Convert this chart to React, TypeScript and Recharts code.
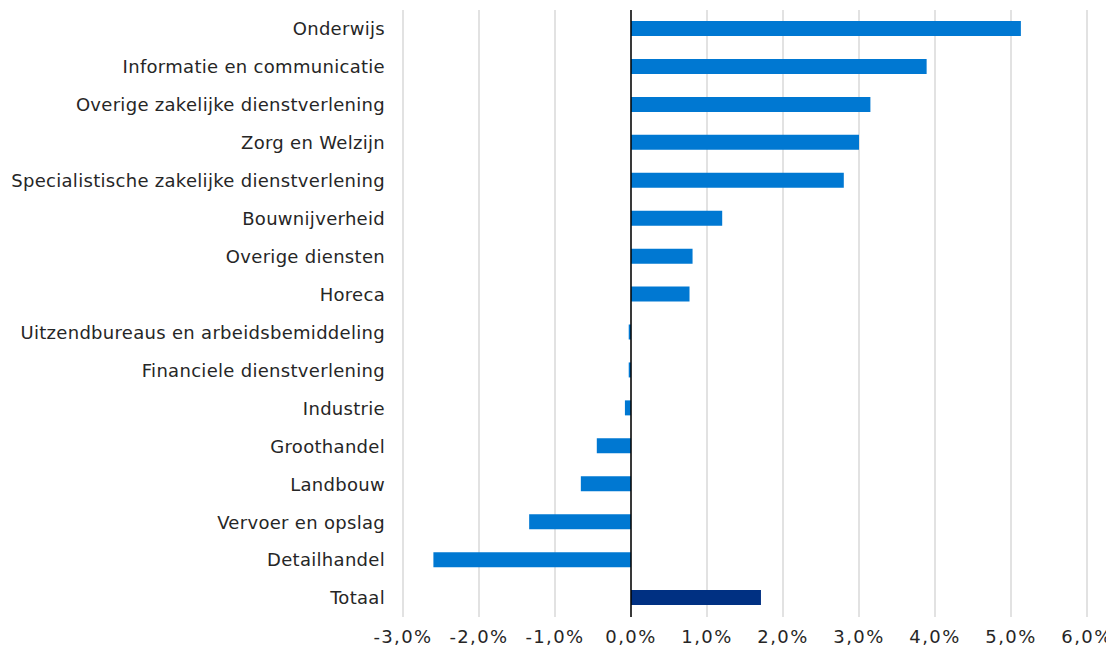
import { BarChart, Bar, XAxis, YAxis, CartesianGrid, ReferenceLine, Cell } from 'recharts';

const sectors = [
  'Onderwijs',
  'Informatie en communicatie',
  'Overige zakelijke dienstverlening',
  'Zorg en Welzijn',
  'Specialistische zakelijke dienstverlening',
  'Bouwnijverheid',
  'Overige diensten',
  'Horeca',
  'Uitzendbureaus en arbeidsbemiddeling',
  'Financiele dienstverlening',
  'Industrie',
  'Groothandel',
  'Landbouw',
  'Vervoer en opslag',
  'Detailhandel',
  'Totaal',
];

// groei in procenten
const growth = [5.13, 3.89, 3.15, 3.0, 2.8, 1.2, 0.81, 0.77, -0.03, -0.03, -0.08, -0.45, -0.66, -1.34, -2.6, 1.71];

const xTicks = [-3, -2, -1, 0, 1, 2, 3, 4, 5, 6];

const data = sectors.map((name, i) => ({ name, value: growth[i] }));

const fmt = (v: number) => `${v.toFixed(1).replace('.', ',')}%`;

export default function App() {
  return (
    <div style={{ fontFamily: '"DejaVu Sans", Verdana, sans-serif' }}>
      <BarChart
        width={1106}
        height={645}
        data={data}
        layout="vertical"
        margin={{ top: 2, right: 27, bottom: 6, left: 0 }}
      >
        <CartesianGrid horizontal={false} stroke="#d9d9d9" strokeWidth={1.5} />
        <XAxis
          type="number"
          domain={[-3, 6]}
          ticks={xTicks}
          tickFormatter={fmt}
          axisLine={false}
          tickLine={false}
          tickSize={0}
          tickMargin={13}
          height={30}
          tick={{ fill: '#262626', fontSize: 18, letterSpacing: 1.4 }}
        />
        <YAxis
          type="category"
          dataKey="name"
          width={395}
          axisLine={false}
          tickLine={false}
          tickSize={0}
          tickMargin={18}
          interval={0}
          tick={{ fill: '#262626', fontSize: 18, letterSpacing: 0.3 }}
        />
        <ReferenceLine x={0} stroke="#000" strokeWidth={1.5} />
        <Bar dataKey="value" barSize={15} isAnimationActive={false}>
          {data.map((d) => (
            <Cell key={d.name} fill={d.name === 'Totaal' ? '#003082' : '#0078d2'} />
          ))}
        </Bar>
      </BarChart>
    </div>
  );
}
